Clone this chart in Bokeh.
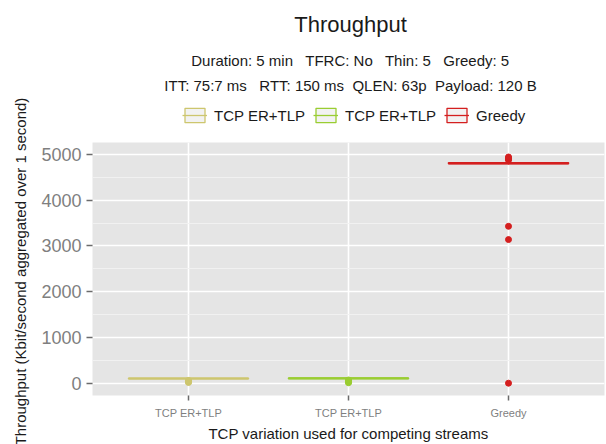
import math
from bokeh.plotting import figure
from bokeh.layouts import column, row
from bokeh.models import (Range1d, FixedTicker, SingleIntervalTicker, Label, Legend,
                          LegendItem, ColumnDataSource)
from bokeh.embed import file_html
from bokeh.resources import INLINE

# ---- data ----
categories = ["TCP ER+TLP", "TCP ER+TLP", "Greedy"]
cat_pos = [1, 2, 3]
colors = ["#CDC66E", "#9ACD32", "#D41F1F"]
lower_whisker = [80, 85, 4780]
q1 = [95, 98, 4795]
median = [102, 106, 4807]
q3 = [110, 114, 4820]
upper_whisker = [125, 130, 4840]
outliers = [[15, 30, 45, 60],
            [10, 25, 40, 55, 70],
            [4880, 4900, 4920, 4945, 3430, 3140, 0]]
y_ticks = [0, 1000, 2000, 3000, 4000, 5000]

NB = "\u00a0"
title_text = "Throughput"
subtitle1 = f"Duration: 5 min{NB*2} TFRC: No{NB*2} Thin: 5{NB*2} Greedy: 5"
subtitle2 = f"ITT: 75:7 ms{NB*2} RTT: 150 ms{NB} QLEN: 63p{NB} Payload: 120 B"
x_title = "TCP variation used for competing streams"
y_title = "Throughput (Kbit/second aggregated over 1 second)"

FONT = "Liberation Sans"
TXT = "#1A1A1A"
half = 0.375
W, H = 606, 444
W_LAB = 30
H_HEAD = 142
FRAME_L, FRAME_R = 92, 604

# ---------------- y-axis title strip ----------------
ylab = figure(width=W_LAB, height=H, output_backend="svg", toolbar_location=None,
              x_range=Range1d(0, W_LAB), y_range=Range1d(H, 0),
              x_axis_type=None, y_axis_type=None, min_border=0,
              outline_line_color=None)
ylab.grid.visible = False
ylab.add_layout(Label(x=20, y=271, text=y_title, angle=math.pi / 2, text_align="center",
                      text_baseline="middle", text_font=FONT, text_font_size="15px",
                      text_color=TXT))

# ---------------- header (titles + legend) ----------------
head = figure(width=W - W_LAB, height=H_HEAD, output_backend="svg", toolbar_location=None,
              x_range=Range1d(FRAME_L, FRAME_R), y_range=Range1d(H_HEAD, 0),
              x_axis_type=None, y_axis_type=None, min_border=0,
              outline_line_color=None, background_fill_color="white")
head.grid.visible = False
for txt, size, yy in [(title_text, "22px", 24), (subtitle1, "15px", 60), (subtitle2, "15px", 85)]:
    head.add_layout(Label(x=350, y=yy, text=txt, text_align="center", text_baseline="middle",
                          text_font=FONT, text_font_size=size, text_color=TXT))

nan = float("nan")
items = []
for i in range(3):
    kb = head.quad(left=[nan], right=[nan], top=[nan], bottom=[nan], fill_color="#F2F2F2",
                   line_color=colors[i], line_width=1.3)
    km = head.segment(x0=[nan], y0=[nan], x1=[nan], y1=[nan], line_color=colors[i], line_width=1.3)
    items.append(LegendItem(label=categories[i], renderers=[kb, km]))
legend = Legend(items=items, orientation="horizontal", location=(182 - FRAME_L, 18),
                glyph_width=25, glyph_height=18, label_text_font=FONT,
                label_text_font_size="15px", label_standoff=7, spacing=8,
                padding=0, margin=0, border_line_color=None,
                background_fill_alpha=0, label_text_color=TXT)
head.add_layout(legend, "center")

# ---------------- main plot ----------------
p = figure(width=W - W_LAB, height=H - H_HEAD, output_backend="svg", toolbar_location=None,
           x_range=Range1d(0.4, 3.6), y_range=Range1d(-269, 5262),
           min_border_left=FRAME_L - W_LAB, min_border_right=W - FRAME_R, min_border_bottom=49,
           min_border_top=0, background_fill_color="#E5E5E5",
           border_fill_color="white", outline_line_color=None)

p.ygrid.ticker = SingleIntervalTicker(interval=1000, num_minor_ticks=2)
p.ygrid.grid_line_color = "white"
p.ygrid.grid_line_width = 1.6
p.ygrid.minor_grid_line_color = "#F2F2F2"
p.ygrid.minor_grid_line_width = 0.9
p.xgrid.ticker = FixedTicker(ticks=cat_pos)
p.xgrid.grid_line_color = "white"
p.xgrid.grid_line_width = 1.6

p.yaxis.ticker = FixedTicker(ticks=y_ticks)
p.xaxis.ticker = FixedTicker(ticks=cat_pos)
p.xaxis.major_label_overrides = {pos: lab for pos, lab in zip(cat_pos, categories)}
for ax in (p.xaxis[0], p.yaxis[0]):
    ax.axis_line_color = None
    ax.minor_tick_line_color = None
    ax.major_tick_in = 0
    ax.major_tick_out = 6
    ax.major_tick_line_color = "#6B6B6B"
    ax.major_tick_line_width = 1.5
    ax.major_label_text_color = "#7F7F7F"
    ax.major_label_text_font = FONT
    ax.axis_label_text_font = FONT
    ax.axis_label_text_font_style = "normal"
    ax.axis_label_text_color = TXT
    ax.axis_label_text_font_size = "15px"
p.yaxis.major_label_text_font_size = "18px"
p.yaxis.major_label_standoff = 5
p.xaxis.major_label_text_font_size = "11px"
p.xaxis.major_label_standoff = 6
p.xaxis.major_tick_out = 5
p.xaxis.axis_label = x_title
p.xaxis.axis_label_standoff = 3

for i in range(3):
    x = cat_pos[i]
    src = ColumnDataSource(dict(left=[x - half], right=[x + half], bottom=[q1[i]], top=[q3[i]],
                                x=[x], lw=[lower_whisker[i]], uw=[upper_whisker[i]], med=[median[i]]))
    p.segment(x0="x", y0="lw", x1="x", y1="uw", source=src, line_color=colors[i], line_width=1.5)
    p.quad(left="left", right="right", bottom="bottom", top="top", source=src,
           fill_color="#F2F2F2", line_color=colors[i], line_width=1.5)
    p.segment(x0="left", y0="med", x1="right", y1="med", source=src,
              line_color=colors[i], line_width=2)
    osrc = ColumnDataSource(dict(x=[x] * len(outliers[i]), y=outliers[i]))
    p.scatter(x="x", y="y", source=osrc, size=6, fill_color=colors[i], line_color=colors[i])

layout = row(ylab, column(head, p, spacing=0), spacing=0)
open("out.html", "w").write(file_html(layout, INLINE))
